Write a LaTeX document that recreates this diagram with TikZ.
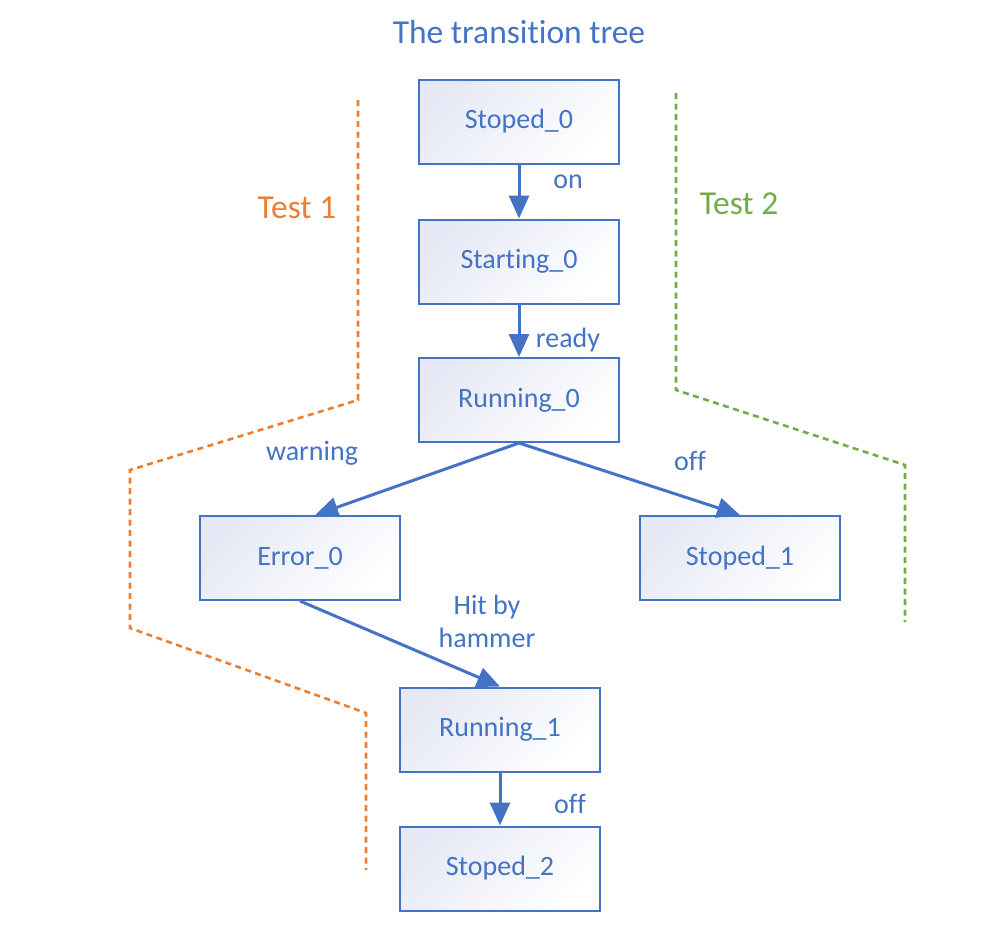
\documentclass[tikz,border=0pt]{standalone}
\usepackage{fontspec}
\setmainfont{Carlito}[RawFeature={-liga;-clig;-dlig;-calt}]
\usepackage{tikz}
\usetikzlibrary{arrows.meta, calc, positioning}
\definecolor{msblue}{HTML}{4472C4}
\definecolor{msorange}{HTML}{ED7D31}
\definecolor{msgreen}{HTML}{70AD47}
\definecolor{boxshade}{HTML}{E6E9F5}

\begin{document}
\begin{tikzpicture}[
	x=1pt, y=-1pt,
	texts/.style = {text=msblue, font=\fontsize{28}{33}\selectfont},
	bigtexts/.style = {text=msblue, font=\fontsize{33.5}{40}\selectfont},
	statebox/.style = {texts, rectangle, draw=msblue, line width=2pt,
		minimum width=200pt, minimum height=84pt,
		top color=boxshade, bottom color=white, shading angle=45},
	trans/.style = {draw=msblue, line width=3pt,
		-{Triangle[length=23pt, width=20pt]}},
	testline/.style = {line width=2.6pt, dash pattern=on 6pt off 4.5pt}
]
	\useasboundingbox (0,0) rectangle (993,932);
	\node[bigtexts] (title) at (519,32) {The transition tree};

	% states
	\node[statebox] (stop0) at (519,121.5) {Stoped\_0};
	\node[statebox] (start0) at (519,261.5) {Starting\_0};
	\node[statebox] (run0) at (519,400) {Running\_0};
	\node[statebox] (err0) at (300,558) {Error\_0};
	\node[statebox] (stop1) at (740,558) {Stoped\_1};
	\node[statebox] (run1) at (500,729.5) {Running\_1};
	\node[statebox] (stop2) at (500,868.5) {Stoped\_2};

	% transitions
	\draw[trans] (stop0) -- (start0);
	\draw[trans] (start0) -- (run0);
	\draw[trans] (run0.south) -- ($(err0.north)!0.15!(err0.north east)$);
	\draw[trans] (run0.south) -- (stop1.north);
	\draw[trans] (err0.south) -- (run1.north);
	\draw[trans] (run1) -- (stop2);

	\node[texts] (lon) at (568,182) {on};
	\node[texts] (lready) at (568,340) {ready};
	\node[texts] (lwarn) at (312,453) {warning};
	\node[texts] (loff1) at (690,461) {off};
	\node[texts, align=center] (lhit) at (487,621) {Hit by\\hammer};
	\node[texts] (loff2) at (570,804) {off};

	% tests
	\node[bigtexts, text=msorange] (test1) at (297,208) {Test 1};
	\node[bigtexts, text=msgreen] (test2) at (739,204) {Test 2};
	\draw[testline, msorange] (358,100) -- (358,400) -- (130,470) -- (130,628)
		-- (366,713) -- (366,870);
	\draw[testline, msgreen] (676,93) -- (676,390) -- (905,465) -- (905,622);
\end{tikzpicture}
\end{document}
